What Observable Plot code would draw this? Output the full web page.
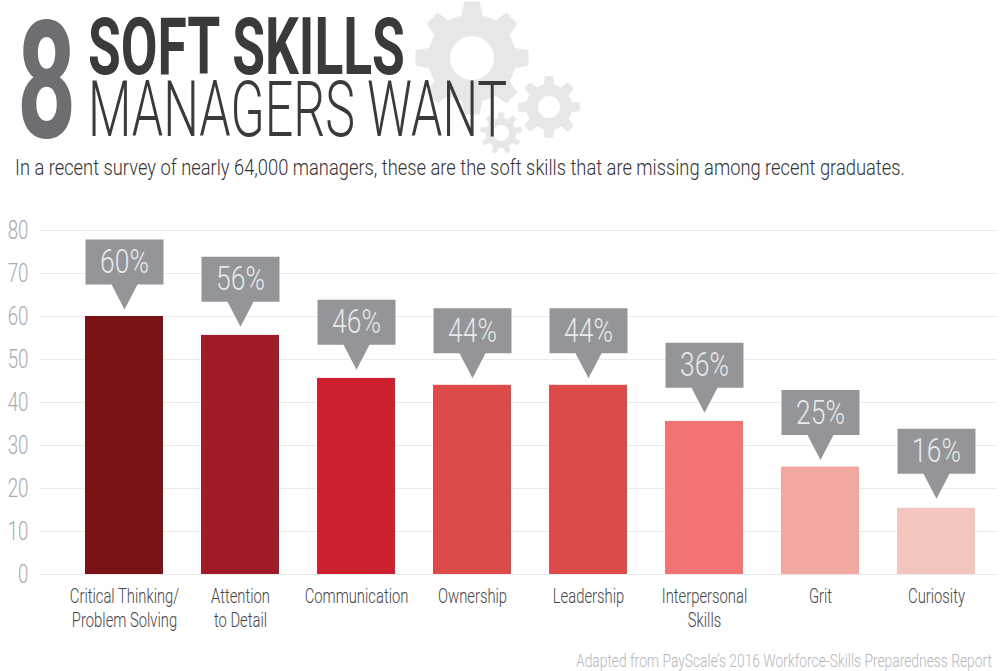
<!DOCTYPE html>
<html>
<head>
<meta charset="utf-8">
<script src="https://cdn.jsdelivr.net/npm/d3@7"></script>
<script src="https://cdn.jsdelivr.net/npm/@observablehq/plot@0.6"></script>
<style>
html,body{margin:0;padding:0;background:#fff;}
#page{position:relative;width:1000px;height:671px;overflow:hidden;font-family:Roboto,sans-serif;}
#page .t{position:absolute;white-space:nowrap;line-height:1;transform-origin:0 0;display:inline-block;margin:0;}
#chart{position:absolute;left:0;top:200px;}
#gears{position:absolute;left:0;top:0;}
</style>
</head>
<body>
<div id="page">
<svg id="gears" width="1000" height="200" aria-hidden="true"></svg>
<div id="chart"></div>
<div class="t" data-w="59" style="left:17px;top:-1px;font-size:164px;font-weight:700;color:#6d6e71">8</div>
<h1 class="t" data-w="317" style="left:88px;top:7.5px;font-size:79px;font-weight:700;color:#3a3a3c">SOFT SKILLS</h1>
<h2 class="t" data-w="419" style="left:88px;top:72px;font-size:77px;font-weight:300;color:#3a3a3c">MANAGERS WANT</h2>
<div class="t" data-w="890" style="left:15px;top:156.5px;font-size:22px;font-weight:300;color:#333335">In a recent survey of nearly 64,000 managers, these are the soft skills that are missing among recent graduates.</div>
<div class="t" data-w="416" style="left:576px;top:651px;font-size:19px;font-weight:300;color:#b5b7b9">Adapted from PayScale’s 2016 Workforce-Skills Preparedness Report</div>
</div>
<script>
const skills = ["Critical Thinking/\nProblem Solving","Attention\nto Detail","Communication","Ownership","Leadership","Interpersonal\nSkills","Grit","Curiosity"];
const barValues = [60,55.6,45.6,44,44,35.6,25,15.4];
const labelValues = [60,56,46,44,44,36,25,16];
const barColors = ["#7a1216","#9e1b27","#cf202f","#dc4a4a","#dc4a4a","#f27474","#f4a8a2","#f4c5bf"];
const yTicks = [0,10,20,30,40,50,60,70,80];

const rows = skills.map((skill,i)=>({skill,value:barValues[i],label:labelValues[i]}));

const callout = {draw(c){
  const hw=39, pw=13, ph=25, bh=45;
  c.moveTo(0,0);c.lineTo(pw,-ph);c.lineTo(hw,-ph);c.lineTo(hw,-ph-bh);c.lineTo(-hw,-ph-bh);c.lineTo(-hw,-ph);c.lineTo(-pw,-ph);c.closePath();
}};

const plot = Plot.plot({
  width:1000,height:440,marginTop:30,marginBottom:66,marginLeft:40,marginRight:3,
  style:{fontFamily:"Roboto,sans-serif",fontWeight:300,background:"transparent"},
  x:{domain:skills,range:[65,995],paddingInner:0.33,paddingOuter:0.165,label:null},
  y:{domain:[0,80],label:null},
  color:{domain:skills,range:barColors},
  marks:[
    Plot.ruleY(yTicks,{stroke:"#e9eaeb",strokeWidth:1}),
    Plot.axisY({ticks:yTicks,tickSize:0,tickPadding:12,fontSize:25,fill:"#a9abae",label:null,className:"ya"}),
    Plot.axisX({tickSize:0,tickPadding:11,fontSize:20,lineHeight:1.2,fill:"#454547",label:null,className:"xa"}),
    Plot.barY(rows,{x:"skill",y:"value",fill:"skill"}),
    Plot.dot(rows,{x:"skill",y:"label",symbol:callout,r:1,fill:"#939598",dy:-7}),
    Plot.text(rows,{x:"skill",y:"label",text:d=>d.label+"%",dy:-54,fontSize:33,fill:"#e8e9ea",className:"vl"})
  ]
});
document.getElementById("chart").appendChild(plot);

// narrow the plot's text to the condensed look of the reference
function narrow(sel,k){
  plot.querySelectorAll(sel).forEach(t=>{
    const tr=t.getAttribute("transform")||"";
    t.setAttribute("transform",tr+` scale(${k},1)`);
  });
}
narrow(".ya text",0.75);narrow(".xa text",0.74);narrow(".vl text",0.8);

// fit header text to its width
document.querySelectorAll("#page .t").forEach(el=>{
  const k=+el.dataset.w/el.offsetWidth;
  el.style.transform=`scaleX(${k})`;
});

// decorative gears
function gear(cx,cy,ro,ri,hole,n,rot){
  let p="";
  const a=2*Math.PI/n;
  for(let i=0;i<n;i++){
    const t=rot+i*a;
    const pts=[[ri,t-a*0.30],[ro,t-a*0.17],[ro,t+a*0.17],[ri,t+a*0.30]];
    pts.forEach(([r,th],j)=>{
      const X=cx+r*Math.sin(th),Y=cy-r*Math.cos(th);
      p+=(i===0&&j===0?"M":"L")+X.toFixed(2)+" "+Y.toFixed(2);
    });
    const th=t+a*0.70;
    p+=`A${ri} ${ri} 0 0 1 ${(cx+ri*Math.sin(th)).toFixed(2)} ${(cy-ri*Math.cos(th)).toFixed(2)}`;
  }
  p+="Z";
  p+=`M${cx+hole} ${cy}A${hole} ${hole} 0 1 0 ${cx-hole} ${cy}A${hole} ${hole} 0 1 0 ${cx+hole} ${cy}Z`;
  return p;
}
d3.select("#gears").selectAll("path").data([
  gear(472,58,57,44,22,8,0),
  gear(549,107,31,23,11,8,0),
  gear(501,133,21,15,8,9,0)
]).join("path").attr("d",d=>d).attr("fill","#e6e7e8").attr("fill-rule","evenodd");
</script>
</body>
</html>
